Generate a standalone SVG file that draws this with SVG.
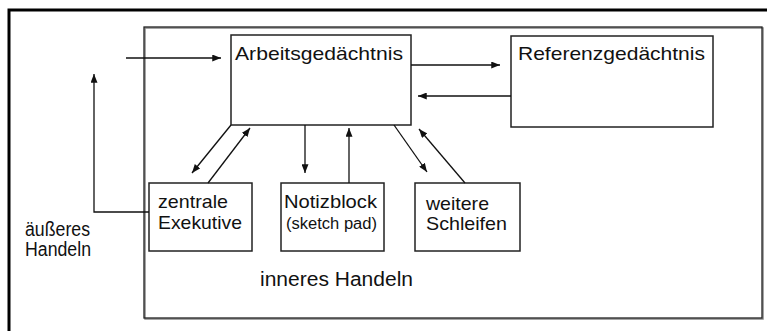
<svg xmlns="http://www.w3.org/2000/svg" width="767" height="331" viewBox="0 0 767 331">
<defs>
<marker id="ah" viewBox="0 0 10 8" refX="10" refY="4" markerWidth="9" markerHeight="7" markerUnits="userSpaceOnUse" orient="auto">
<path d="M0,0 L10,4 L0,8 Z" fill="#111"/>
</marker>
</defs>
<style>
.box{fill:#fff;stroke:#222;stroke-width:1.5}
.ln{fill:none;stroke:#111;stroke-width:1.3}
.arr{fill:none;stroke:#111;stroke-width:1.3;marker-end:url(#ah)}
text{font-family:"Liberation Sans",Arial,sans-serif;fill:#111}
.big{font-size:19px}
.xl{font-size:20px}
.sm{font-size:16px}
</style>
<rect width="767" height="331" fill="#fff"/>
<g id="frame">
<path d="M9,331 V10 H767" fill="none" stroke="#000" stroke-width="3"/>
</g>
<g id="inneres-handeln">
<rect x="145" y="28" width="618" height="291" fill="none" stroke="#888" stroke-width="1.5"/>
<rect x="144" y="27" width="618" height="291" fill="none" stroke="#222" stroke-width="1.3"/>
<text class="xl" x="260" y="286" textLength="153" lengthAdjust="spacingAndGlyphs">inneres Handeln</text>
</g>
<g id="aeusseres-handeln">
<text class="xl" x="25" y="236" textLength="65" lengthAdjust="spacingAndGlyphs">äußeres</text>
<text class="xl" x="25" y="256" textLength="66" lengthAdjust="spacingAndGlyphs">Handeln</text>
</g>
<g id="arbeitsgedaechtnis">
<rect class="box" x="231" y="35" width="180" height="90"/>
<text class="big" x="235" y="60" textLength="168" lengthAdjust="spacingAndGlyphs">Arbeitsgedächtnis</text>
</g>
<g id="referenzgedaechtnis">
<rect class="box" x="511" y="36" width="202" height="91"/>
<text class="big" x="518" y="60" textLength="187" lengthAdjust="spacingAndGlyphs">Referenzgedächtnis</text>
</g>
<g id="zentrale-exekutive">
<rect class="box" x="149" y="183" width="103" height="68"/>
<text class="big" x="158" y="208" textLength="70" lengthAdjust="spacingAndGlyphs">zentrale</text>
<text class="big" x="158" y="229" textLength="84" lengthAdjust="spacingAndGlyphs">Exekutive</text>
</g>
<g id="notizblock">
<rect class="box" x="281" y="183" width="103" height="68"/>
<text class="big" x="284" y="208" textLength="93" lengthAdjust="spacingAndGlyphs">Notizblock</text>
<text class="sm" x="286" y="229" textLength="91" lengthAdjust="spacingAndGlyphs">(sketch pad)</text>
</g>
<g id="weitere-schleifen">
<rect class="box" x="415" y="183" width="105" height="68"/>
<text class="big" x="426" y="210" textLength="63" lengthAdjust="spacingAndGlyphs">weitere</text>
<text class="big" x="426" y="230" textLength="81" lengthAdjust="spacingAndGlyphs">Schleifen</text>
</g>
<g id="connectors">
<line class="arr" x1="126" y1="58" x2="221" y2="58"/>
<line class="arr" x1="411" y1="65" x2="500" y2="65"/>
<line class="arr" x1="511" y1="96" x2="418" y2="96"/>
<path class="arr" d="M149,212 H94 V74"/>
<line class="arr" x1="231" y1="125" x2="192" y2="173"/>
<line class="arr" x1="208" y1="183" x2="250" y2="128"/>
<line class="arr" x1="305" y1="125" x2="305" y2="173"/>
<line class="arr" x1="349" y1="183" x2="349" y2="128"/>
<line class="arr" x1="394" y1="125" x2="427" y2="172"/>
<line class="arr" x1="465" y1="183" x2="419" y2="129"/>
</g>
</svg>
